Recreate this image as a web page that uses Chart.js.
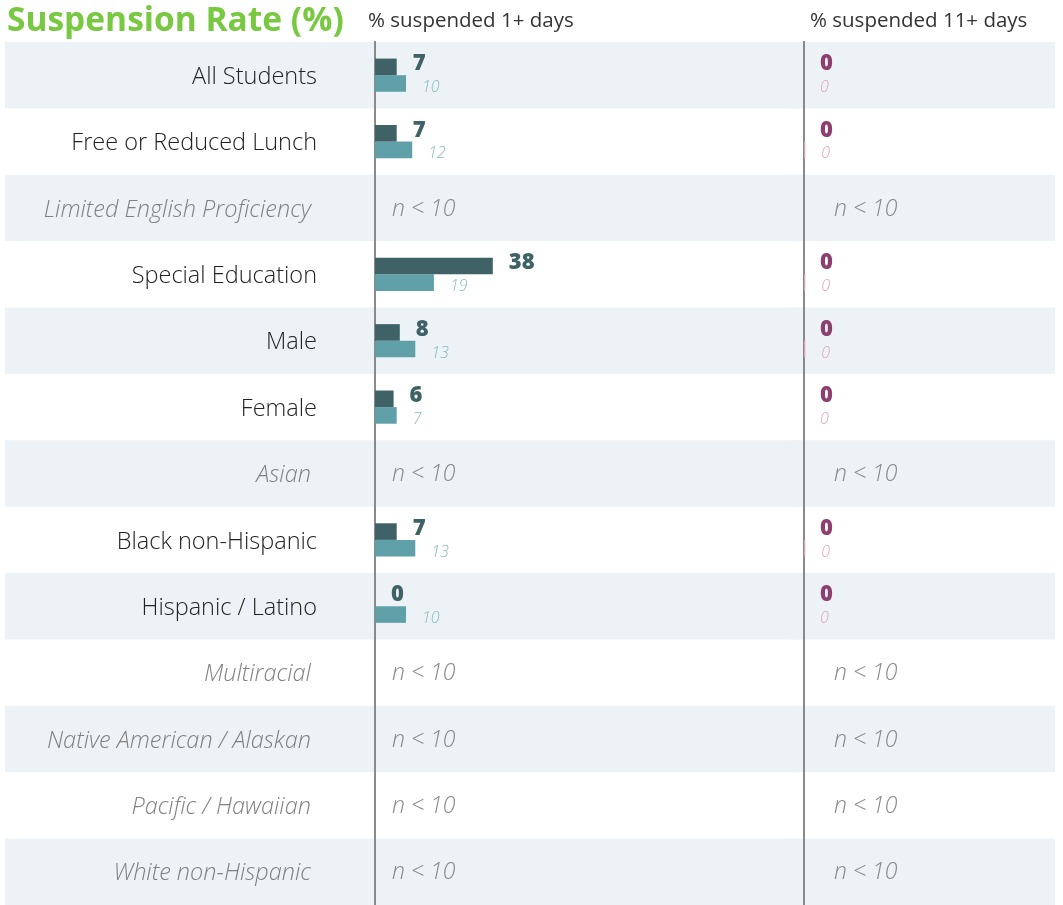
<!DOCTYPE html>
<html>
<head>
<meta charset="utf-8">
<script src="https://cdn.jsdelivr.net/npm/chart.js@4"></script>
<style>
  body { margin: 0; background: #fff; width: 1063px; height: 905px; position: relative; overflow: hidden; font-family: "Open Sans", sans-serif; }
  canvas { position: absolute; top: 0; }
  #leftChart { left: 0; }
  #rightChart { left: 790px; }
  .title { position: absolute; left: 7px; top: -5px; font-size: 33.5px; font-weight: 700; color: #78c841; }
  .head { position: absolute; top: 5px; font-size: 20.5px; font-weight: 400; color: #333; }
</style>
</head>
<body>
<canvas id="leftChart" width="800" height="905"></canvas>
<canvas id="rightChart" width="273" height="905"></canvas>
<div class="title">Suspension Rate (%)</div>
<div class="head" style="left:368px">% suspended 1+ days</div>
<div class="head" style="left:810px">% suspended 11+ days</div>
<script>
// Data
const groups = [
  "All Students", "Free or Reduced Lunch", "Limited English Proficiency",
  "Special Education", "Male", "Female", "Asian", "Black non-Hispanic",
  "Hispanic / Latino", "Multiracial", "Native American / Alaskan",
  "Pacific / Hawaiian", "White non-Hispanic"
];
// null = n < 10
const school1 = [7, 7, null, 38, 8, 6, null, 7, 0, null, null, null, null];
const compare1 = [10, 12, null, 19, 13, 7, null, 13, 10, null, null, null, null];
const school11 = [0, 0, null, 0, 0, 0, null, 0, 0, null, null, null, null];
const compare11 = [0, 0.4, null, 0.4, 0.4, 0, null, 0.4, 0, null, null, null, null];

const PX_PER_UNIT = 3.1;
const BAND = "#edf2f6";
const AXIS = "#8a8a8a";

// Alternating row bands + "n < 10" text
const rowsPlugin = {
  id: "rows",
  beforeDraw(chart, args, opts) {
    const { ctx, chartArea } = chart;
    const y = chart.scales.y;
    const half = (chartArea.bottom - chartArea.top) / groups.length / 2;
    ctx.save();
    ctx.fillStyle = BAND;
    groups.forEach((g, i) => {
      if (i % 2 === 0) {
        const cy = y.getPixelForValue(i);
        ctx.fillRect(opts.bandLeft, cy - half, opts.bandRight - opts.bandLeft, half * 2);
      }
    });
    ctx.restore();
  },
  afterDatasetsDraw(chart, args, opts) {
    const { ctx, chartArea } = chart;
    const y = chart.scales.y;
    ctx.save();
    ctx.font = "italic 300 23px 'Open Sans'";
    ctx.fillStyle = "#888";
    ctx.textBaseline = "middle";
    chart.data.datasets[0].data.forEach((v, i) => {
      if (v === null) {
        ctx.fillText("n < 10", chartArea.left + opts.naOffset, y.getPixelForValue(i) + 1);
      }
    });
    ctx.restore();
  }
};

// Value labels right of bars
const valuePlugin = {
  id: "values",
  afterDatasetsDraw(chart, args, opts) {
    const { ctx } = chart;
    ctx.save();
    ctx.textBaseline = "middle";
    chart.data.datasets.forEach((ds, di) => {
      const meta = chart.getDatasetMeta(di);
      meta.data.forEach((bar, i) => {
        const v = ds.data[i];
        if (v === null) return;
        if (di === 0) {
          ctx.font = "800 22px 'Open Sans'";
          ctx.fillStyle = opts.darkColor;
          ctx.fillText(Math.round(v), bar.x + 16, bar.y - 3);
        } else {
          ctx.font = "italic 300 16px 'Open Sans'";
          ctx.fillStyle = opts.lightColor;
          ctx.fillText(Math.round(v), bar.x + 16, bar.y + 4);
        }
      });
    });
    ctx.restore();
  }
};

const baseOptions = (max, yWidth, showLabels, plugins) => ({
  indexAxis: "y",
  responsive: false,
  animation: false,
  devicePixelRatio: 1,
  layout: { padding: { top: 42, right: 0, bottom: 0, left: 0 } },
  scales: {
    x: { display: false, min: 0, max: max },
    y: {
      display: true,
      grid: { display: false, drawTicks: false },
      border: { display: true, color: AXIS, width: 2 },
      afterFit: (s) => { s.width = yWidth; s.paddingTop = 0; s.paddingBottom = 0; },
      ticks: {
        display: showLabels,
        padding: 58,
        labelOffset: 2,
        callback: (v, i) => (school1[i] === null ? groups[i] + " " : groups[i]),
        color: (c) => (school1[c.index] === null ? "#808080" : "#222"),
        font: (c) => ({
          family: "Open Sans",
          size: 23.5,
          weight: 300,
          style: school1[c.index] === null ? "italic" : "normal"
        })
      }
    }
  },
  plugins: Object.assign({ legend: { display: false }, tooltip: { enabled: false } }, plugins)
});

new Chart(document.getElementById("leftChart"), {
  type: "bar",
  data: {
    labels: groups,
    datasets: [
      { data: school1, backgroundColor: "#3e6266", barPercentage: 1, categoryPercentage: 0.5 },
      { data: compare1, backgroundColor: "#60a1a9", barPercentage: 1, categoryPercentage: 0.5 }
    ]
  },
  options: baseOptions((800 - 375) / PX_PER_UNIT, 375, true, {
    rows: { bandLeft: 5, bandRight: 800, naOffset: 17 },
    values: { darkColor: "#3e6266", lightColor: "#86bac2" }
  }),
  plugins: [rowsPlugin, valuePlugin]
});

new Chart(document.getElementById("rightChart"), {
  type: "bar",
  data: {
    labels: groups,
    datasets: [
      { data: school11, backgroundColor: "#8c3f70", barPercentage: 1, categoryPercentage: 0.5 },
      { data: compare11, backgroundColor: "#e09ab8", barPercentage: 1, categoryPercentage: 0.5 }
    ]
  },
  options: baseOptions((273 - 14) / PX_PER_UNIT, 14, false, {
    rows: { bandLeft: 0, bandRight: 265, naOffset: 30 },
    values: { darkColor: "#8c3f70", lightColor: "#e0a3bd" }
  }),
  plugins: [rowsPlugin, valuePlugin]
});
</script>
</body>
</html>
